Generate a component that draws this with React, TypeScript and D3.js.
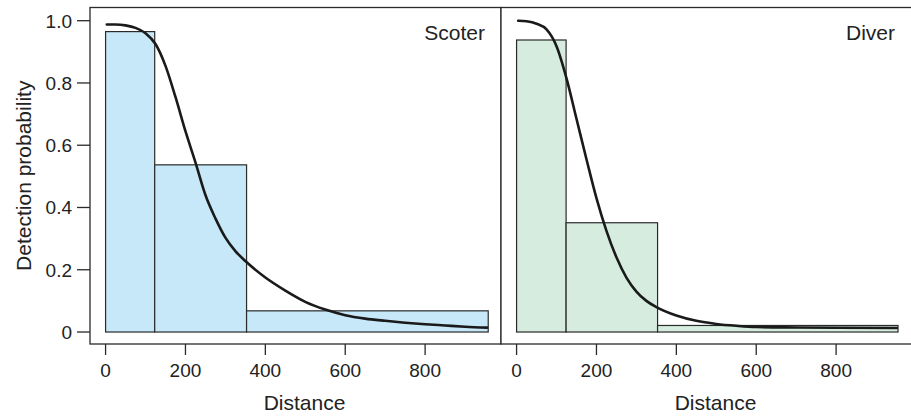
import React from "react";
import * as d3 from "d3";

const panelNames = ["Scoter", "Diver"];
const binEdgesScoter = [0, 123, 353, 958];
const binHeightsScoter = [0.965, 0.537, 0.068];
const binEdgesDiver = [0, 124, 353, 955];
const binHeightsDiver = [0.938, 0.351, 0.021];

const curveDistScoter = [3, 25, 50, 75, 100, 125, 150, 175, 200, 225, 250, 275, 300, 325, 350, 400, 450, 500, 550, 600, 650, 700, 750, 800, 850, 900, 955];
const curveProbScoter = [0.988, 0.988, 0.985, 0.977, 0.96, 0.925, 0.855, 0.755, 0.645, 0.545, 0.44, 0.365, 0.303, 0.26, 0.228, 0.175, 0.133, 0.097, 0.072, 0.054, 0.043, 0.036, 0.03, 0.025, 0.021, 0.017, 0.014];
const curveDistDiver = [4, 25, 50, 75, 100, 125, 150, 175, 200, 225, 250, 275, 300, 325, 350, 400, 450, 500, 550, 600, 700, 800, 952];
const curveProbDiver = [1.0, 0.998, 0.99, 0.972, 0.918, 0.815, 0.685, 0.555, 0.43, 0.325, 0.24, 0.175, 0.13, 0.1, 0.08, 0.053, 0.036, 0.026, 0.02, 0.016, 0.0145, 0.0135, 0.013];

const xTicks = [0, 200, 400, 600, 800];
const yTicks = [0, 0.2, 0.4, 0.6, 0.8, 1.0];
const yTickLabels = ["0", "0.2", "0.4", "0.6", "0.8", "1.0"];

const W = 911;
const H = 416;
const top = 7.5;
const bottom = 344;
const panelW = 411;
const panelLeft = [90, 501];
const fills = ["#c6e8f8", "#d6ecdf"];
const FONT = "'Liberation Sans', Arial, Helvetica, sans-serif";

export default function App() {
  const y = d3.scaleLinear().domain([-0.0385, 1.0424]).range([bottom, top]);
  const panels = [
    { edges: binEdgesScoter, heights: binHeightsScoter, cx: curveDistScoter, cy: curveProbScoter },
    { edges: binEdgesDiver, heights: binHeightsDiver, cx: curveDistDiver, cy: curveProbDiver },
  ];
  return (
    <svg width={W} height={H} style={{ position: "absolute", left: 0, top: 0, background: "#fff" }} fontFamily={FONT}>
      {panels.map((p, pi) => {
        const x0 = panelLeft[pi];
        const x = d3.scaleLinear().domain([-39, 990]).range([x0, x0 + panelW]);
        const line = d3
          .line<number>()
          .x((_, i) => x(p.cx[i]))
          .y((d) => y(d))
          .curve(d3.curveMonotoneX);
        return (
          <g key={pi}>
            <rect x={x0} y={top} width={panelW} height={bottom - top} fill="#fff" stroke="none" />
            {p.heights.map((h, i) => (
              <rect
                key={i}
                x={x(p.edges[i])}
                y={y(h)}
                width={x(p.edges[i + 1]) - x(p.edges[i])}
                height={y(0) - y(h)}
                fill={fills[pi]}
                stroke="#2a2a2a"
                strokeWidth={1.2}
              />
            ))}
            <path d={line(p.cy) || ""} fill="none" stroke="#1a1a1a" strokeWidth={2.6} strokeLinecap="round" />
            <rect x={x0} y={top} width={panelW} height={bottom - top} fill="none" stroke="#2a2a2a" strokeWidth={1.3} />
            <text x={pi === 0 ? 485 : 895} y={40} textAnchor="end" fontSize={21} fill="#222">
              {panelNames[pi]}
            </text>
            {xTicks.map((t) => (
              <g key={t}>
                <line x1={x(t)} x2={x(t)} y1={bottom} y2={bottom + 11} stroke="#2a2a2a" strokeWidth={1.3} />
                <text x={x(t)} y={377} textAnchor="middle" fontSize={19} fill="#222">
                  {t}
                </text>
              </g>
            ))}
            <text x={x0 + panelW / 2 + 9} y={410} textAnchor="middle" fontSize={21} fill="#222">
              Distance
            </text>
          </g>
        );
      })}
      {yTicks.map((t, i) => (
        <g key={t}>
          <line x1={77} x2={90} y1={y(t)} y2={y(t)} stroke="#2a2a2a" strokeWidth={1.3} />
          <text x={72} y={y(t) + 7} textAnchor="end" fontSize={19} fill="#222">
            {yTickLabels[i]}
          </text>
        </g>
      ))}
      <text
        transform={`translate(31, ${(top + bottom) / 2}) rotate(-90)`}
        textAnchor="middle"
        fontSize={21}
        fill="#222"
      >
        Detection probability
      </text>
    </svg>
  );
}
